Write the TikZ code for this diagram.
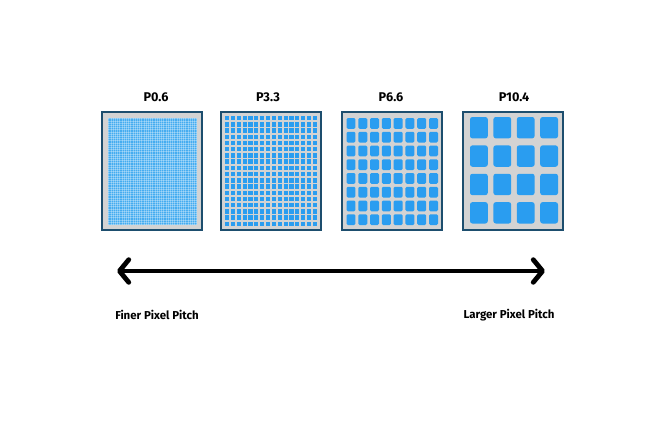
\documentclass[tikz,border=0pt]{standalone}
\usepackage{fontspec}
\setmainfont{Fira Sans}
\usetikzlibrary{arrows.meta}

\definecolor{frame}{HTML}{1D4E6E}
\definecolor{panel}{HTML}{D3D3D3}
\definecolor{led}{HTML}{2A9DF0}
\definecolor{ledfine}{HTML}{45ACF0}

% LED cells: [opts] x0 y0 x1 y1 cols rows gapx gapy
\newcommand{\ledgrid}[9][]{%
  \pgfmathsetmacro\cw{(#4-#2-(#6-1)*#8)/#6}%
  \pgfmathsetmacro\ch{(#5-#3-(#7-1)*#9)/#7}%
  \foreach \c in {1,...,#6}{\foreach \r in {1,...,#7}{%
    \fill[led,#1] ({#2+(\c-1)*(\cw+#8)},{#3+(\r-1)*(\ch+#9)}) rectangle ++(\cw,\ch);
  }}}

\begin{document}
\begin{tikzpicture}[x=0.75pt, y=-0.75pt,
  screen/.style={draw=frame, fill=panel, line width=1.6pt, inner sep=0pt, minimum width=75pt, minimum height=88.5pt},
  pitch/.style={font=\bfseries\fontsize{9.5}{11}\selectfont},
  side/.style={font=\bfseries\fontsize{8.6}{10}\selectfont}]
\useasboundingbox (0,0) rectangle (660,440);

\node[screen] (P06) at (152,171) {};
\node[screen] (P33) at (271,171) {};
\node[screen] (P66) at (392,171) {};
\node[screen] (P104) at (513,171) {};

\node[pitch] (P06t) at (156,97) {P0.6};
\node[pitch] (P33t) at (268,97) {P3.3};
\node[pitch] (P66t) at (391,97) {P6.6};
\node[pitch] (P104t) at (514,97) {P10.4};

% fine pitch panel
\fill[ledfine] (108,118) rectangle (197,225);
\foreach \i in {0,...,40} \draw[white, line width=0.3pt, opacity=0.3] ({108.5+\i*2.2},118) -- ({108.5+\i*2.2},225);
\foreach \i in {0,...,48} \draw[white, line width=0.3pt, opacity=0.3] (108,{118.5+\i*2.2}) -- (197,{118.5+\i*2.2});

\ledgrid{225}{116}{317}{226}{16}{18}{1.8}{1.8}
\ledgrid[rounded corners=1pt]{346.5}{118}{438}{225}{8}{8}{2.8}{3}
\ledgrid[rounded corners=1.8pt]{470}{117}{558}{223.5}{4}{4}{5.6}{7}

\coordinate (finer) at (117,271);
\coordinate (larger) at (545,271);
\draw[line width=3.6pt, {Straight Barb[round, length=7pt, width=17pt]}-{Straight Barb[round, length=7pt, width=17pt]}] (finer) -- (larger);

\node[side] (finert) at (157,315) {Finer Pixel Pitch};
\node[side] (largert) at (509,315) {Larger Pixel Pitch};
\end{tikzpicture}
\end{document}
